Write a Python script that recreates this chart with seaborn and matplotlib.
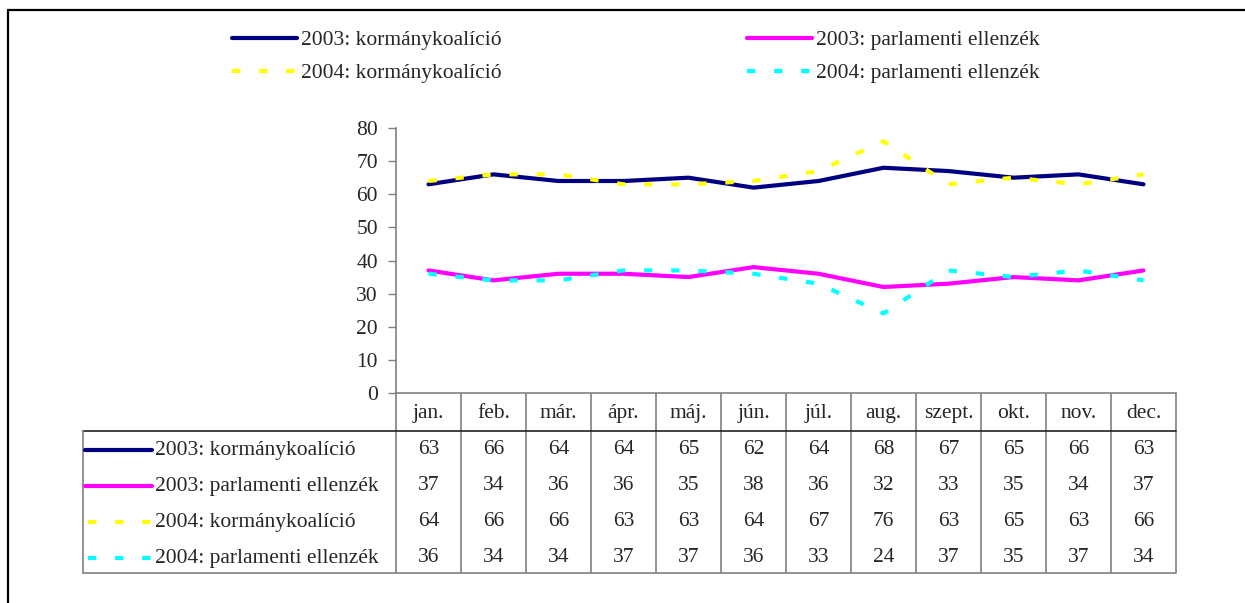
import pandas as pd
import numpy as np
import matplotlib.pyplot as plt
import seaborn as sns
from matplotlib.lines import Line2D

months = ['jan.', 'feb.', 'már.', 'ápr.', 'máj.', 'jún.', 'júl.', 'aug.', 'szept.', 'okt.', 'nov.', 'dec.']
kormany_2003 = [63, 66, 64, 64, 65, 62, 64, 68, 67, 65, 66, 63]
ellenzek_2003 = [37, 34, 36, 36, 35, 38, 36, 32, 33, 35, 34, 37]
kormany_2004 = [64, 66, 66, 63, 63, 64, 67, 76, 63, 65, 63, 66]
ellenzek_2004 = [36, 34, 34, 37, 37, 36, 33, 24, 37, 35, 37, 34]
names = ['2003: kormánykoalíció', '2003: parlamenti ellenzék',
         '2004: kormánykoalíció', '2004: parlamenti ellenzék']
series = [kormany_2003, ellenzek_2003, kormany_2004, ellenzek_2004]
colors = ['#000080', '#FF00FF', '#FFFF00', '#00FFFF']
dash_pat = (2, 4.5)

df = pd.concat([pd.DataFrame({'x': range(12), 'v': s, 'sor': n}) for s, n in zip(series, names)])

sns.set_style('white')
plt.rcParams['font.family'] = ['Liberation Serif', 'DejaVu Serif']
FS = 15.5

W, H = 1245, 603
fig = plt.figure(figsize=(W / 100, H / 100), dpi=100)
ax = fig.add_axes([396 / W, 1 - 393 / H, (1176 - 396) / W, (393 - 128) / H])

palette = dict(zip(names, colors))
dashes = {names[0]: '', names[1]: '', names[2]: dash_pat, names[3]: dash_pat}
sns.lineplot(data=df, x='x', y='v', hue='sor', style='sor', palette=palette, dashes=dashes,
             lw=3, ax=ax, legend=False)

ax.set_xlim(-0.5, 11.5)
ax.set_ylim(0, 80)
ax.set_yticks(range(0, 81, 10))
ax.set_xticks(range(12), months)
ax.set_xlabel('')
ax.set_ylabel('')
ax.tick_params(axis='y', length=6, width=1, color='#808080', labelsize=FS, pad=7, left=True)
ax.tick_params(axis='x', length=0, labelsize=FS, pad=8)
for sp in ['top', 'right']:
    ax.spines[sp].set_visible(False)
for sp in ['left', 'bottom']:
    ax.spines[sp].set_color('#808080')
    ax.spines[sp].set_linewidth(1.2)


def ypx(p):
    return (393 - p) / 265


# data table below the plot
trans = ax.get_xaxis_transform()
ax.vlines(np.arange(-0.5, 12, 1), ypx(573), 0, transform=trans, colors='#808080', lw=1.2, clip_on=False)
row_y = [450, 486, 522, 558]
for i, s in enumerate(series):
    for j, v in enumerate(s):
        ax.text(j, ypx(row_y[i]), str(v), transform=trans, ha='center', va='center',
                fontsize=FS, clip_on=False)


def fx(p):
    return p / W


def fy(p):
    return 1 - p / H


fig.add_artist(Line2D([fx(83), fx(1176)], [fy(431), fy(431)], color='#202020', lw=1.2))
fig.add_artist(Line2D([fx(83), fx(1176)], [fy(573), fy(573)], color='#808080', lw=1.2))
fig.add_artist(Line2D([fx(83), fx(83)], [fy(431), fy(573)], color='#808080', lw=1.2))
for i, n in enumerate(names):
    y = fy(row_y[i])
    if n.startswith('2004'):
        fig.add_artist(Line2D([fx(88), fx(152)], [y, y], color=colors[i], lw=3, dashes=dash_pat))
    else:
        fig.add_artist(Line2D([fx(85), fx(152)], [y, y], color=colors[i], lw=3))
    fig.text(fx(155), y, n, ha='left', va='center', fontsize=FS)

# legend, two columns
handles = [Line2D([], [], color=c, lw=3, dashes=(dashes[n] if dashes[n] else (None, None)))
           for n, c in zip(names, colors)]
leg_kw = dict(loc='upper left', frameon=False, fontsize=FS, handlelength=3.0,
              handletextpad=0.19, labelspacing=0.6, borderpad=0, borderaxespad=0)
fig.legend([handles[0], handles[2]], [names[0], names[2]],
           bbox_to_anchor=(fx(232), fy(30)), **leg_kw)
fig.legend([handles[1], handles[3]], [names[1], names[3]],
           bbox_to_anchor=(fx(747), fy(30)), **leg_kw)

# outer frame
fig.add_artist(Line2D([fx(8), fx(8)], [0, fy(10)], color='black', lw=1.6))
fig.add_artist(Line2D([fx(8), 1], [fy(10), fy(10)], color='black', lw=1.6))

plt.savefig('out.png', dpi=100)
